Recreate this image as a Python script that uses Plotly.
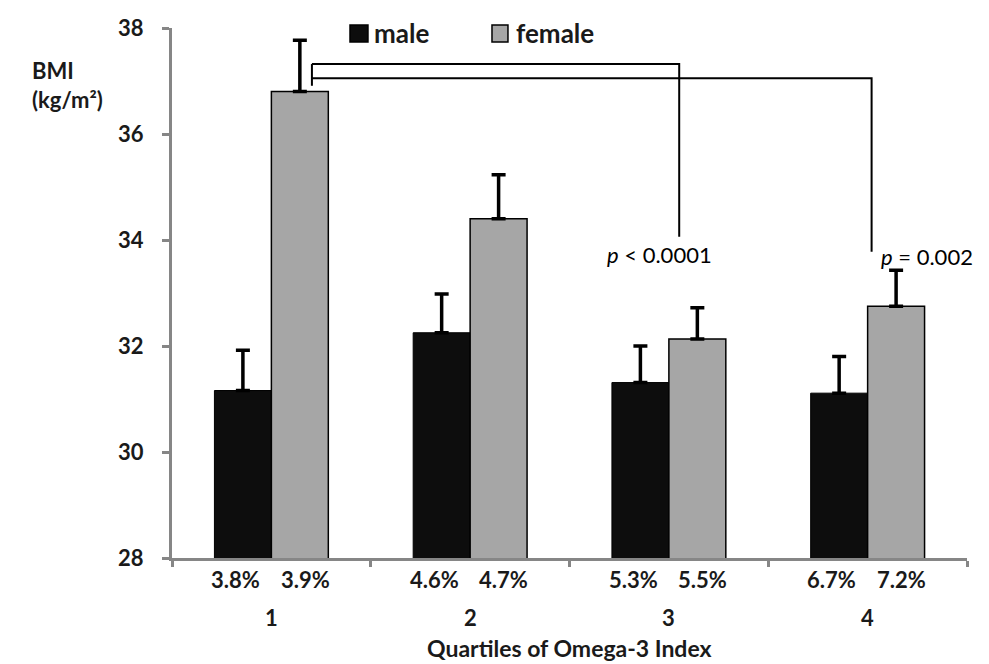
import plotly.graph_objects as go

# ---- data ----
quartiles = ["1", "2", "3", "4"]
quartile_pos = [1, 2, 3, 4]
series_names = ["male", "female"]
male_bmi = [31.16, 32.25, 31.31, 31.11]
male_se = [0.76, 0.73, 0.69, 0.69]
female_bmi = [36.80, 34.40, 32.13, 32.75]
female_se = [0.97, 0.83, 0.59, 0.68]
male_pct = ["3.8%", "4.6%", "5.3%", "6.7%"]
female_pct = ["3.9%", "4.7%", "5.5%", "7.2%"]
p_labels = ["<i>p</i> < 0.0001", "<i>p</i> = 0.002"]
# significance brackets (data units)
bracket_x_start = 1.204
bracket_x_end = [3.052, 4.02]
bracket_top = [37.32, 37.05]
bracket_left_bottom = 36.91
bracket_right_bottom = [34.06, 33.78]
p_label_x = [2.955, 4.30]
p_label_y = [33.72, 33.68]

FONT = "Lato"
AXIS_GRAY = "#868686"
MALE_COLOR = "#0d0d0d"
FEMALE_COLOR = "#a6a6a6"
TXT = "#1a1a1a"

fig = go.Figure()
fig.add_trace(go.Bar(
    x=quartile_pos, y=male_bmi, name=series_names[0], showlegend=False,
    marker=dict(color=MALE_COLOR, line=dict(color="#000000", width=1)),
    error_y=dict(type="data", symmetric=False, array=male_se,
                 arrayminus=[0] * 4, color="#000000", thickness=3.5, width=7),
))
fig.add_trace(go.Bar(
    x=quartile_pos, y=female_bmi, name=series_names[1], showlegend=False,
    marker=dict(color=FEMALE_COLOR, line=dict(color="#000000", width=1.5)),
    error_y=dict(type="data", symmetric=False, array=female_se,
                 arrayminus=[0] * 4, color="#000000", thickness=3.5, width=7),
))

shapes = []
for i in range(2):
    shapes.append(dict(type="path", xref="x", yref="y",
                       path=(f"M {bracket_x_start},{bracket_top[i]} "
                             f"L {bracket_x_end[i]},{bracket_top[i]} "
                             f"L {bracket_x_end[i]},{bracket_right_bottom[i]}"),
                       line=dict(color="#000000", width=2)))
shapes.append(dict(type="line", xref="x", yref="y",
                   x0=bracket_x_start, x1=bracket_x_start,
                   y0=bracket_top[0], y1=bracket_left_bottom,
                   line=dict(color="#000000", width=2)))

# custom legend (paper coordinates)
legend_sq = [(0.2239, 0.2465), (0.4025, 0.4226)]
legend_txt_x = [0.251, 0.430]
legend_colors = [MALE_COLOR, FEMALE_COLOR]
for i in range(2):
    shapes.append(dict(type="rect", xref="paper", yref="paper",
                       x0=legend_sq[i][0], x1=legend_sq[i][1], y0=0.9736, y1=1.0057,
                       fillcolor=legend_colors[i], line=dict(color="#000000", width=1.5)))

annotations = []
for i in range(2):
    annotations.append(dict(x=legend_txt_x[i], y=0.9906, xref="paper", yref="paper",
                            text=series_names[i], showarrow=False,
                            xanchor="left", yanchor="middle",
                            font=dict(family=FONT, size=26, color=TXT, weight="bold")))

lab_font = dict(family=FONT, size=22, color=TXT, weight="bold")
for i in range(4):
    annotations.append(dict(x=quartile_pos[i] - 0.18, y=-0.0415, xref="x", yref="paper",
                            text=male_pct[i], showarrow=False, yanchor="middle",
                            font=lab_font))
    annotations.append(dict(x=quartile_pos[i] + 0.17, y=-0.0415, xref="x", yref="paper",
                            text=female_pct[i], showarrow=False, yanchor="middle",
                            font=lab_font))
    annotations.append(dict(x=quartile_pos[i], y=-0.113, xref="x", yref="paper",
                            text=quartiles[i], showarrow=False, yanchor="middle",
                            font=lab_font))
for i in range(2):
    annotations.append(dict(x=p_label_x[i], y=p_label_y[i], xref="x", yref="y",
                            text=p_labels[i], showarrow=False,
                            font=dict(family=FONT, size=22, color="#000")))
annotations.append(dict(x=(0.5 + 4.5) / 2, y=-0.17, xref="x", yref="paper",
                        text="Quartiles of Omega-3 Index", showarrow=False,
                        yanchor="middle",
                        font=dict(family=FONT, size=23, color=TXT, weight="bold")))
annotations.append(dict(x=-0.178, y=0.892, xref="paper", yref="paper",
                        text="BMI<br>(kg/m²)", showarrow=False, align="left",
                        xanchor="left", yanchor="middle", font=lab_font))

fig.update_layout(
    width=989, height=664,
    margin=dict(l=172, r=22, t=28, b=106),
    paper_bgcolor="white", plot_bgcolor="white",
    barmode="group", bargap=0.427, bargroupgap=0,
    showlegend=False,
    xaxis=dict(range=[0.5, 4.5], tickvals=[0.5, 1.5, 2.5, 3.5, 4.5],
               ticktext=["", "", "", "", ""], ticks="outside", ticklen=6,
               tickwidth=3, tickcolor=AXIS_GRAY, showline=True, linecolor=AXIS_GRAY,
               linewidth=3, showgrid=False, zeroline=False, fixedrange=True),
    yaxis=dict(range=[28, 38], tickvals=[28, 30, 32, 34, 36, 38],
               ticks="outside", ticklen=7, tickwidth=3, tickcolor=AXIS_GRAY,
               showline=True, linecolor=AXIS_GRAY, linewidth=3, showgrid=False,
               zeroline=False, tickfont=dict(family=FONT, size=22, color=TXT, weight="bold"),
               ticklabelstandoff=14),
    shapes=shapes, annotations=annotations,
)

fig.write_html("out.html", config={"displayModeBar": False},
               post_script="document.body.style.margin='0';document.body.style.overflow='hidden';")
